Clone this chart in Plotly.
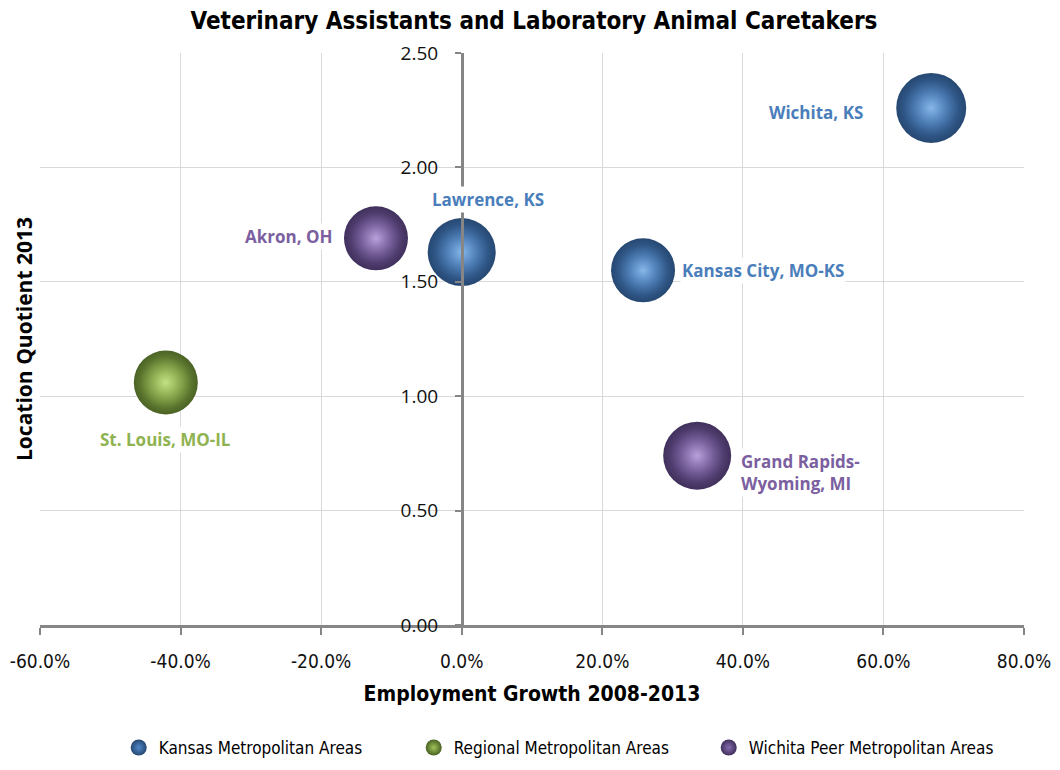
import plotly.graph_objects as go

# ---- data ----
cities = ["Wichita, KS", "Kansas City, MO-KS", "Lawrence, KS",
          "St. Louis, MO-IL", "Akron, OH", "Grand Rapids-<br>Wyoming, MI"]
groups = ["Kansas Metropolitan Areas", "Kansas Metropolitan Areas", "Kansas Metropolitan Areas",
          "Regional Metropolitan Areas", "Wichita Peer Metropolitan Areas", "Wichita Peer Metropolitan Areas"]
employment_growth = [0.668, 0.258, 0.0, -0.421, -0.122, 0.335]
location_quotient = [2.26, 1.55, 1.63, 1.06, 1.69, 0.74]
bubble_value = [70, 64, 68, 64, 64, 68]

x_ticks = [-0.6, -0.4, -0.2, 0.0, 0.2, 0.4, 0.6, 0.8]
x_tick_labels = ["-60.0%", "-40.0%", "-20.0%", "0.0%", "20.0%", "40.0%", "60.0%", "80.0%"]
y_ticks = [0.0, 0.5, 1.0, 1.5, 2.0, 2.5]
y_tick_labels = ["0.00", "0.50", "1.00", "1.50", "2.00", "2.50"]

group_order = ["Kansas Metropolitan Areas", "Regional Metropolitan Areas", "Wichita Peer Metropolitan Areas"]
group_style = {
    "Kansas Metropolitan Areas": dict(light="rgba(170,212,250,0.9)", mid="#5189cb", mid0="rgba(81,137,203,0)",
                                      edge="#264872", text="#4a7ebb"),
    "Regional Metropolitan Areas": dict(light="rgba(215,240,160,0.9)", mid="#a0c458", mid0="rgba(160,196,88,0)",
                                        edge="#4a6224", text="#8fb350"),
    "Wichita Peer Metropolitan Areas": dict(light="rgba(215,195,245,0.9)", mid="#876bb0", mid0="rgba(135,107,176,0)",
                                            edge="#40305c", text="#7b5fa0"),
}
# label placement (pixel offsets from point)
label_pos = {
    "Wichita, KS": dict(xanchor="right", xshift=-66, yshift=-5),
    "Kansas City, MO-KS": dict(xanchor="left", xshift=37, yshift=0),
    "Lawrence, KS": dict(xanchor="center", xshift=26, yshift=53),
    "St. Louis, MO-IL": dict(xanchor="center", xshift=0, yshift=-57),
    "Akron, OH": dict(xanchor="right", xshift=-41, yshift=2),
    "Grand Rapids-<br>Wyoming, MI": dict(xanchor="left", xshift=42, yshift=-17),
}

fig = go.Figure()
for g in group_order:
    idx = [i for i, gg in enumerate(groups) if gg == g]
    st = group_style[g]
    xs = [employment_growth[i] for i in idx]
    ys = [location_quotient[i] for i in idx]
    sz = [bubble_value[i] for i in idx]
    fig.add_trace(go.Scatter(
        x=xs, y=ys, mode="markers", name=g, legendgroup=g,
        marker=dict(size=sz, sizemode="diameter", sizeref=1,
                    color=st["edge"], gradient=dict(type="radial", color=st["mid"]),
                    line=dict(width=0), opacity=1),
        hovertext=[cities[i] for i in idx],
    ))
    # highlight layer
    fig.add_trace(go.Scatter(
        x=xs, y=ys, mode="markers", name=g, legendgroup=g, showlegend=False,
        marker=dict(size=[s * 0.8 for s in sz], sizemode="diameter", sizeref=1,
                    color=st["mid0"], gradient=dict(type="radial", color=st["light"]),
                    line=dict(width=0)),
        hoverinfo="skip",
    ))

for i, c in enumerate(cities):
    st = group_style[groups[i]]
    lp = label_pos[c]
    fig.add_annotation(x=employment_growth[i], y=location_quotient[i], text="<b>%s</b>" % c,
                       showarrow=False, xanchor=lp["xanchor"], yanchor="middle",
                       xshift=lp["xshift"], yshift=lp["yshift"], align="left",
                       font=dict(family="Open Sans", size=17, color=st["text"]),
                       bgcolor="white", borderpad=1)

# y-axis title (left edge)
fig.add_annotation(x=0, xref="paper", xanchor="center", xshift=-16, y=0.5, yref="paper",
                   text="<b>Location Quotient 2013</b>", textangle=-90, showarrow=False,
                   font=dict(family="Open Sans", size=21, color="#000"))

narrow = "DejaVu Sans Condensed, Liberation Sans Narrow, sans-serif"

fig.update_layout(
    width=1052, height=762,
    paper_bgcolor="white", plot_bgcolor="white",
    margin=dict(l=32, r=36, t=45, b=145, autoexpand=False),
    title=dict(text="<b>Veterinary Assistants and Laboratory Animal Caretakers</b>",
               x=0.5, xanchor="center", y=0.994, yanchor="top",
               font=dict(family=narrow, size=24, color="#000")),
    xaxis=dict(range=[-0.6, 0.8], tickvals=x_ticks, ticktext=x_tick_labels,
               showgrid=True, gridcolor="#d9d9d9", gridwidth=1, zeroline=False,
               showline=True, linecolor="#868686", linewidth=2.5,
               ticks="outside", ticklen=7, tickcolor="#868686", tickwidth=2,
               ticklabelstandoff=10, automargin=False,
               tickfont=dict(family=narrow, size=19, color="#111"),
               title=dict(text="<b>Employment Growth 2008-2013</b>", standoff=16,
                          font=dict(family=narrow, size=21, color="#000"))),
    yaxis=dict(range=[0, 2.5], tickvals=y_ticks, ticktext=y_tick_labels,
               showgrid=True, gridcolor="#d9d9d9", gridwidth=1, zeroline=False,
               anchor="free", position=0.6/1.4, automargin=False,
               showline=True, linecolor="#868686", linewidth=2.5,
               ticks="outside", ticklen=6, tickcolor="#868686", tickwidth=2,
               ticklabelstandoff=13,
               tickfont=dict(family="Open Sans", size=19, color="#111")),
    legend=dict(orientation="h", x=0.08, xanchor="left", y=-0.215, yanchor="middle",
                font=dict(family=narrow, size=17, color="#000"),
                entrywidth=250, itemsizing="trace", bgcolor="rgba(0,0,0,0)"),
    showlegend=True,
)

fig.write_html("out.html")
